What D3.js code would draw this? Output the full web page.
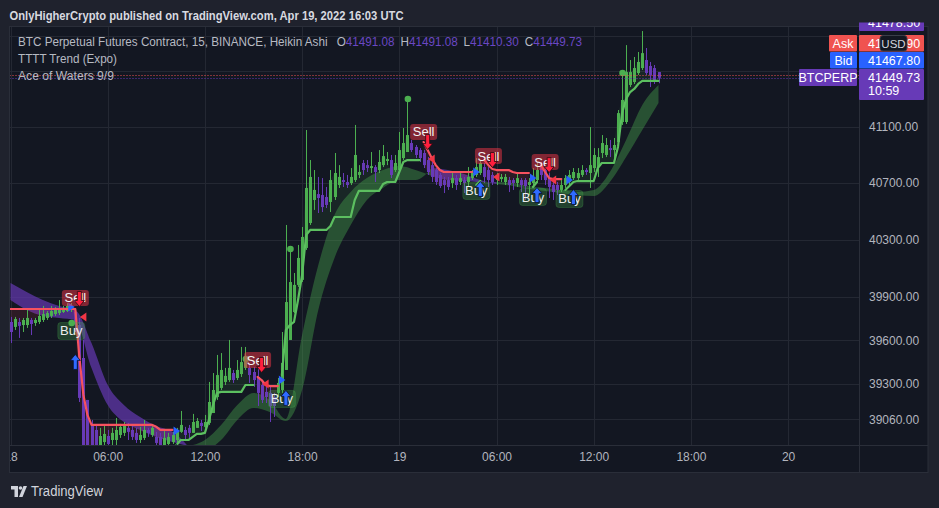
<!DOCTYPE html>
<html><head><meta charset="utf-8">
<script src="https://cdn.jsdelivr.net/npm/d3@7"></script>
<style>html,body{margin:0;padding:0;background:#1f222d;}svg{display:block}</style>
</head><body>
<svg id="c" width="939" height="508"></svg>
<script>
// ---------- DATA (Heikin Ashi 15m bars from 2022-04-18 00:00 UTC) ----------
const haOpen = [39726,39692,39726,39705,39705,39740,39719,39726,39740,39754,39768,39781,39788,39795,39802,39809,39795,39705,39478,39191,
39021,38987,38885,38905,38946,38919,38919,38953,38967,39001,38987,38967,38919,38933,38987,38953,38940,38940,38885,38892,
38905,38919,38974,38987,39001,38967,39001,39035,39008,39035,39102,39211,39273,39314,39327,39375,39341,39368,39410,39410,
39382,39348,39293,39246,39239,39211,39239,39259,39396,39602,39795,39983,40018,40241,40416,40578,40620,40613,40599,40564,
40599,40684,40719,40705,40698,40719,40755,40840,40825,40804,40811,40790,40825,40854,40861,40790,40790,40875,40918,40982,
40954,40932,40911,40861,40825,40790,40755,40719,40719,40698,40733,40705,40719,40705,40733,40755,40769,40811,40790,40755,
40719,40726,40705,40719,40719,40698,40719,40719,40684,40698,40719,40811,40790,40733,40684,40684,40649,40684,40705,40733,
40733,40755,40790,40769,40804,40811,40911,40897,40946,40932,40989,41132,41132,41398,41419,41484,41520,41578,41535,41520,41491.08];
const haHigh = [39761,39761,39754,39754,39809,39754,39754,39809,39837,39802,39837,39830,39878,39837,39857,39857,39823,39754,39602,39191,
39055,39014,39001,39021,38987,39001,39068,39028,39041,39035,39014,39001,39008,39055,39001,39021,38974,38967,38980,38967,
38974,39001,39116,39008,39021,39096,39068,39055,39089,39314,39375,39499,39512,39410,39602,39396,39464,39554,39554,39444,
39416,39410,39327,39307,39280,39239,39341,39657,40402,40227,40066,40262,40388,41075,40861,40790,40741,40733,40670,40790,
40911,40825,40769,40755,40804,41111,40825,40861,40861,40918,40825,40932,40968,40918,40897,40897,41061,41089,41297,41004,
40968,40946,40932,40882,40847,40804,40769,40741,40741,40769,40755,40769,40741,40811,40790,40875,40861,40840,40811,40776,
40769,40762,40762,40741,40733,40769,40733,40733,40733,40804,40840,40847,40804,40776,40705,40705,40719,40755,40790,40804,
40804,40825,40804,41096,40946,40946,41039,41018,41004,41018,41218,41484,41686,41578,41600,41636,41788,41665,41564,41542,41491.08];
const haLow = [39581,39671,39616,39657,39685,39636,39699,39712,39726,39740,39754,39768,39774,39788,39795,39795,39657,39177,38785,38718,
38684,38785,38838,38865,38852,38878,38885,38933,38946,38919,38919,38899,38899,38919,38940,38940,38878,38865,38878,38878,
38892,38905,38967,38919,38926,38967,39001,38980,39001,39021,39102,39191,39259,39293,39314,39307,39327,39348,39396,39307,
39280,39150,39170,39170,39041,39075,39211,39239,39396,39602,39788,39969,40003,40227,40402,40508,40486,40493,40521,40493,
40578,40663,40670,40663,40684,40705,40733,40755,40776,40769,40705,40769,40811,40825,40733,40776,40776,40861,40918,40918,
40875,40847,40804,40755,40705,40684,40663,40627,40649,40663,40649,40684,40627,40670,40719,40741,40755,40698,40670,40684,
40684,40705,40684,40634,40649,40670,40634,40578,40613,40670,40698,40719,40684,40592,40578,40613,40634,40663,40684,40719,
40705,40741,40755,40663,40776,40741,40875,40882,40882,40875,40968,41111,41118,41383,41405,41470,41506,41470,41383,41405,41410.30];
const haClose = [39657,39747,39699,39740,39754,39712,39740,39768,39781,39788,39802,39816,39823,39823,39837,39837,39726,39205,38878,38785,
38751,38838,38946,38960,38892,38967,38987,39008,39014,38974,38940,38919,38953,38987,38967,39001,38899,38885,38933,38940,
38953,38974,39021,38953,38967,39041,39048,39014,39041,39177,39259,39361,39396,39355,39410,39327,39396,39450,39464,39361,
39327,39239,39191,39211,39150,39150,39307,39444,39864,40003,39983,40171,40318,40663,40741,40649,40592,40528,40543,40719,
40769,40741,40705,40684,40741,40897,40776,40790,40804,40818,40776,40847,40889,40868,40755,40840,40932,40982,41039,40932,
40897,40875,40825,40776,40741,40705,40677,40684,40670,40733,40684,40733,40698,40741,40769,40811,40840,40741,40719,40705,
40755,40741,40741,40684,40698,40733,40684,40677,40705,40741,40790,40755,40719,40670,40634,40649,40684,40733,40755,40776,
40769,40790,40776,40825,40897,40882,40982,40968,40932,40968,41196,41290,41491,41491,41520,41564,41628,41484,41470,41434,41449.73];

// TTTT Trend (Expo): value per bar and its state (R = bearish, G = bullish)
const trendValue = [39816,39816,39816,39816,39816,39816,39816,39816,39816,39816,39816,39816,39816,39816,39816,39816,39816,39485,39225,39089,
39021,39021,39021,39021,39021,39021,39021,39021,39021,39021,39021,39021,39021,39021,39021,39021,39008,38987,38987,38987,
38987,38885,38919,38919,38919,38940,38960,38960,38967,39055,39157,39239,39246,39246,39246,39246,39246,39246,39293,39293,
39293,39348,39327,39293,39286,39286,39286,39361,39671,39705,39726,39878,40052,40332,40367,40367,40367,40367,40367,40395,
40458,40458,40458,40458,40458,40578,40642,40642,40642,40642,40642,40642,40691,40705,40705,40705,40776,40847,40861,40861,
40861,40861,40989,40932,40875,40825,40790,40776,40776,40776,40776,40776,40776,40776,40776,40684,40712,40861,40825,40797,
40790,40790,40790,40790,40776,40769,40769,40769,40769,40670,40705,40825,40776,40733,40726,40726,40726,40649,40677,40705,
40712,40712,40712,40712,40712,40804,40840,40840,40840,40840,40954,41196,41297,41347,41369,41405,41427,41427,41427,41427,41427];
const trendState = ("RRRRRRRRRRRRRRRRRRRRRRRRRRRRRRRRRRRRRRRRR" + "GGGGGGGGGGGGGGGGGGGG" + "RRRRRR" +
  "GGGGGGGGGGGGGGGGGGGGGGGGGGGGGGGGGGG" + "RRRRRRRRRRRRR" + "GG" + "RRRRRRRRRRRR" + "GG" + "RRRRRR" +
  "GGGGGGGGGGGGGGGGGGGGGGGG").split("");

// Ace of Waters cloud, hourly samples (fast / slow)
const bandFast = [39878,39809,39768,39754,39740,39410,39157,39041,38987,38940,38905,38878,38919,39021,39157,39239,39191,39062,39636,40122,
40472,40635,40733,40790,40818,40790,40748,40719,40712,40705,40705,40698,40677,40663,40649,40635,40649,40776,41004,41254,41398];
const bandSlow = [39996,39934,39878,39837,39809,39581,39293,39157,39075,39014,38974,38872,38852,38919,39055,39136,39109,39048,39259,39809,
40171,40402,40578,40663,40719,40719,40804,40790,40762,40719,40691,40677,40656,40642,40628,40613,40606,40705,40882,41075,41268];

// signals
const sellBars = [17,62,103,119,133];
const sellLabelPrice = [39893,39464,41061,40889,40847];
const sellArrowPrice = [39885,39430,40989,40861,40825];
const buyBars = [16,41,68,116,130,139];
const buyLabelPrice = [39664,38771,39198,40642,40599,40585];
const buyArrowPrice = [39451,38838,39205,40656,40613,40599];
const blueMarkBars = [15,41,67,115,129,138];
const blueMarkPrice = [39830,38980,39327,40776,40733,40719];
const redMarkBars = [18,63,104,120,134];
const redMarkPrice = [39761,39300,40868,40741,40719];
const dotBars = [15,58,69,98,151];
const dotPrice = [39719,39471,40234,41297,41484];

// axes
const priceTicks = [41750,41500,41100,40700,40300,39900,39600,39300,39060];
const priceTickLabels = ["","","41100.00","40700.00","40300.00","39900.00","39600.00","39300.00","39060.00"];
const timeTickLabels = ["18","06:00","12:00","18:00","19","06:00","12:00","18:00","20"];
const askPrice = 41467.90, bidPrice = 41467.80, topLabel = "41478.50", countdown = "10:59";

// ---------- CHART ----------
const svg = d3.select("#c");
const FONT = "'Liberation Sans', Arial, sans-serif";
const plot = {x0: 9.5, x1: 859, y0: 26, y1: 445};
const start = Date.UTC(2022, 3, 18, 0, 0);
const barTime = haOpen.map((_, i) => new Date(start + i * 15 * 60000));
const x = d3.scaleUtc().domain([new Date(Date.UTC(2022,3,18)), new Date(Date.UTC(2022,3,20))]).range([10.5, 788.1]);
const y = d3.scaleLog().domain([41100, 39060]).range([126.5, 419.2]);
const GREEN = "#4caf50", PURPLE = "#673ab7", RED = "#f23645", BLUE = "#2962ff";

svg.append("rect").attr("width", 939).attr("height", 508).attr("fill", "#1f222d");
svg.append("rect").attr("x", plot.x0).attr("y", plot.y0).attr("width", 928 - plot.x0).attr("height", 472 - plot.y0)
  .attr("fill", "#131722");

const defs = svg.append("defs");
defs.append("clipPath").attr("id", "pc").append("rect")
  .attr("x", plot.x0).attr("y", plot.y0).attr("width", plot.x1 - plot.x0).attr("height", plot.y1 - plot.y0);
defs.append("clipPath").attr("id", "tc").append("rect")
  .attr("x", plot.x0 + 0.5).attr("y", plot.y1).attr("width", plot.x1 - plot.x0).attr("height", 27);
defs.append("clipPath").attr("id", "ac").append("rect")
  .attr("x", plot.x1).attr("y", 22.5).attr("width", 70).attr("height", 450);

const tickDates = d3.utcHour.every(6).range(new Date(Date.UTC(2022,3,18)), new Date(Date.UTC(2022,3,20,0,1)));

// grid
const grid = svg.append("g").attr("clip-path", "url(#pc)");
grid.selectAll("line.h").data(priceTicks).join("line")
  .attr("x1", plot.x0).attr("x2", plot.x1).attr("y1", d => Math.round(y(d)) + 0.5).attr("y2", d => Math.round(y(d)) + 0.5)
  .attr("stroke", "#242833").attr("stroke-width", 1);
grid.selectAll("line.v").data(tickDates).join("line")
  .attr("y1", plot.y0).attr("y2", plot.y1).attr("x1", d => Math.round(x(d)) + 0.5).attr("x2", d => Math.round(x(d)) + 0.5)
  .attr("stroke", "#242833").attr("stroke-width", 1);

const pane = svg.append("g").attr("clip-path", "url(#pc)");

// cloud
const bandIdx = d3.range(0, haOpen.length, 4);
const bandPts = bandIdx.map((b, k) => ({t: barTime[b], f: bandFast[k], s: bandSlow[k]}));
const groups = [];
let cur = null;
bandPts.forEach(p => {
  const up = p.f >= p.s;
  if (!cur || cur.up !== up) { if (cur) cur.pts.push(p); cur = {up, pts: [p]}; groups.push(cur); }
  else cur.pts.push(p);
});
const bandArea = d3.area().x(d => x(d.t)).y0(d => y(d.f)).y1(d => y(d.s)).curve(d3.curveMonotoneX);
pane.selectAll("path.band").data(groups).join("path")
  .attr("d", g => bandArea(g.pts))
  .attr("fill", g => g.up ? "rgba(76,175,80,0.38)" : "rgba(103,58,183,0.68)");

// trend runs
const runs = [];
let run = null;
trendState.forEach((s, i) => {
  if (!run || run.s !== s) { run = {s, idx: []}; runs.push(run); }
  run.idx.push(i);
});
const trendArea = d3.area().x(i => x(barTime[i])).y0(i => y(trendValue[i])).y1(i => y(haClose[i]));
pane.selectAll("path.tfill").data(runs).join("path")
  .attr("d", r => trendArea(r.idx))
  .attr("fill", r => r.s === "G" ? "rgba(76,175,80,0.10)" : "rgba(242,54,69,0.12)");

// candles
const cg = pane.append("g");
haOpen.forEach((o, i) => {
  const c = haClose[i], up = c >= o, col = up ? GREEN : PURPLE;
  const cx = Math.round(x(barTime[i]));
  cg.append("line").attr("x1", cx + 0.5).attr("x2", cx + 0.5).attr("y1", y(haHigh[i])).attr("y2", y(haLow[i]))
    .attr("stroke", col).attr("stroke-width", 1);
  const top = y(Math.max(o, c)), bot = y(Math.min(o, c));
  cg.append("rect").attr("x", cx - 1).attr("width", 3).attr("y", top).attr("height", Math.max(1, bot - top)).attr("fill", col);
});

// trend line
const trendLine = d3.line().x(i => x(barTime[i])).y(i => y(trendValue[i]));
pane.selectAll("path.tline").data(runs).join("path")
  .attr("d", r => trendLine(r.idx.length > 1 ? r.idx : [r.idx[0], r.idx[0]]))
  .attr("fill", "none").attr("stroke", r => r.s === "G" ? "#5cbf60" : "#f7525f")
  .attr("stroke-width", 2.2).attr("stroke-linejoin", "round").attr("stroke-linecap", "round");

// dots
pane.selectAll("circle.dot").data(dotBars).join("circle")
  .attr("cx", (b) => x(barTime[b]) + 0.5).attr("cy", (b, k) => y(dotPrice[k])).attr("r", 3.3).attr("fill", "#4caf50");

// price lines (ask / last)
pane.append("line").attr("x1", plot.x0).attr("x2", plot.x1).attr("y1", Math.round(y(askPrice)) + 0.5).attr("y2", Math.round(y(askPrice)) + 0.5)
  .attr("stroke", "#f05350").attr("stroke-dasharray", "1,2");
pane.append("line").attr("x1", plot.x0).attr("x2", plot.x1).attr("y1", Math.round(y(haClose[haClose.length-1])) + 0.5).attr("y2", Math.round(y(haClose[haClose.length-1])) + 0.5)
  .attr("stroke", "#673ab7").attr("stroke-dasharray", "1,2");

// markers
const mk = pane.append("g");
function downArrow(cx, cy) {
  return `M${cx-2},${cy-7.5}L${cx+2},${cy-7.5}L${cx+2},${cy+1.5}L${cx+5},${cy+1.5}L${cx},${cy+7.5}L${cx-5},${cy+1.5}L${cx-2},${cy+1.5}Z`;
}
function upArrow(cx, cy) {
  return `M${cx-2},${cy+7.5}L${cx+2},${cy+7.5}L${cx+2},${cy-1.5}L${cx+5},${cy-1.5}L${cx},${cy-7.5}L${cx-5},${cy-1.5}L${cx-2},${cy-1.5}Z`;
}
blueMarkBars.forEach((b, k) => {
  const cx = x(barTime[b]), cy = y(blueMarkPrice[k]);
  mk.append("path").attr("d", `M${cx-3},${cy-4.5}L${cx+3.5},${cy}L${cx-3},${cy+4.5}Z`).attr("fill", BLUE);
});
redMarkBars.forEach((b, k) => {
  const cx = x(barTime[b]), cy = y(redMarkPrice[k]);
  mk.append("path").attr("d", `M${cx+3},${cy-4.5}L${cx-3.5},${cy}L${cx+3},${cy+4.5}Z`).attr("fill", RED);
});
sellBars.forEach((b, k) => {
  const bx = x(barTime[b]), ly = y(sellLabelPrice[k]);
  mk.append("rect").attr("x", bx - 4 - 13.5).attr("y", ly - 8).attr("width", 27).attr("height", 16).attr("rx", 3)
    .attr("fill", "rgba(242,54,69,0.5)");
  mk.append("text").attr("x", bx - 4).attr("y", ly).attr("text-anchor", "middle").attr("dominant-baseline", "central")
    .attr("font-family", FONT).attr("font-size", 13).attr("fill", "#f4f4f4").text("Sell");
  mk.append("path").attr("d", downArrow(bx, y(sellArrowPrice[k]))).attr("fill", "#ff1f3d").attr("stroke", "#2a0a10").attr("stroke-width", 0.8);
});
buyBars.forEach((b, k) => {
  const bx = x(barTime[b]), ly = y(buyLabelPrice[k]);
  mk.append("rect").attr("x", bx - 4 - 13.5).attr("y", ly - 8.5).attr("width", 27).attr("height", 17).attr("rx", 3)
    .attr("fill", "rgba(76,175,80,0.28)").attr("stroke", "rgba(76,175,80,0.25)");
  mk.append("text").attr("x", bx - 4).attr("y", ly).attr("text-anchor", "middle").attr("dominant-baseline", "central")
    .attr("font-family", FONT).attr("font-size", 13).attr("fill", "#eeeeee").text("Buy");
  mk.append("path").attr("d", upArrow(bx, y(buyArrowPrice[k]))).attr("fill", "#2f6bff").attr("stroke", "#0a1030").attr("stroke-width", 0.8);
});

// frame lines
svg.append("line").attr("x1", plot.x1 + 0.5).attr("x2", plot.x1 + 0.5).attr("y1", plot.y0).attr("y2", 472).attr("stroke", "#2a2e39");
svg.append("line").attr("x1", plot.x0).attr("x2", 928).attr("y1", plot.y1 + 0.5).attr("y2", plot.y1 + 0.5).attr("stroke", "#2a2e39");
svg.append("rect").attr("x", plot.x0).attr("y", plot.y0 + 0.5).attr("width", 928 - plot.x0).attr("height", 472 - plot.y0)
  .attr("fill", "none").attr("stroke", "#2a2e39");

// time axis (clip applied on an untransformed wrapper)
const tWrap = svg.append("g").attr("clip-path", "url(#tc)");
const tAxis = tWrap.append("g").attr("transform", `translate(0,${plot.y1})`)
  .call(d3.axisBottom(x).tickValues(tickDates).tickSize(0).tickPadding(7).tickFormat((d, i) => timeTickLabels[i]));
tAxis.select(".domain").remove();
tAxis.selectAll("text").attr("font-family", FONT).attr("font-size", 12).attr("fill", "#b2b5be");

// price axis
const pAxis = svg.append("g").attr("transform", `translate(${plot.x1},0)`)
  .call(d3.axisRight(y).tickValues(priceTicks).tickSize(0).tickPadding(10).tickFormat((d, i) => priceTickLabels[i]));
pAxis.select(".domain").remove();
pAxis.selectAll("text").attr("font-family", FONT).attr("font-size", 12).attr("fill", "#b2b5be");

// axis labels
const al = svg.append("g").attr("clip-path", "url(#ac)");
function valBox(y0, h, fill, lines) {
  al.append("rect").attr("x", plot.x1).attr("y", y0).attr("width", 65).attr("height", h).attr("fill", fill).attr("rx", 1);
  lines.forEach((t, k) => al.append("text").attr("x", 868).attr("y", y0 + 8.5 + k * 13.5).attr("dominant-baseline", "central")
    .attr("font-family", FONT).attr("font-size", 12.5).attr("fill", "#ffffff").text(t));
}
valBox(14, 17, "#673ab7", [topLabel]);
valBox(35, 16.5, "#f05350", [d3.format(".2f")(askPrice)]);
valBox(52, 16.5, "#2962ff", [d3.format(".2f")(bidPrice)]);
valBox(69, 31, "#673ab7", [d3.format(".2f")(haClose[haClose.length-1]), countdown]);
// USD badge
svg.append("rect").attr("x", 880).attr("y", 35.5).attr("width", 27).attr("height", 15.5).attr("rx", 3)
  .attr("fill", "#131722").attr("stroke", "#3a3e49");
svg.append("text").attr("x", 893.5).attr("y", 43.5).attr("text-anchor", "middle").attr("dominant-baseline", "central")
  .attr("font-family", FONT).attr("font-size", 11.5).attr("fill", "#d1d4dc").text("USD");
// left tags
function tag(x0, y0, w, h, fill, t) {
  svg.append("rect").attr("x", x0).attr("y", y0).attr("width", w).attr("height", h).attr("fill", fill).attr("rx", 1);
  svg.append("text").attr("x", x0 + w / 2).attr("y", y0 + h / 2 + 0.5).attr("text-anchor", "middle").attr("dominant-baseline", "central")
    .attr("font-family", FONT).attr("font-size", 12.5).attr("fill", "#ffffff").text(t);
}
tag(829, 35, 28, 16.5, "#f05350", "Ask");
tag(830, 52, 27, 16.5, "#2962ff", "Bid");
tag(799, 69, 58, 17, "#673ab7", "BTCPERP");

// header & legend
function txt(xp, yp, s, len, col, size, weight) {
  return svg.append("text").attr("x", xp).attr("y", yp).attr("dominant-baseline", "central")
    .attr("font-family", FONT).attr("font-size", size || 13).attr("font-weight", weight || "normal")
    .attr("fill", col).attr("textLength", len).attr("lengthAdjust", "spacingAndGlyphs").text(s);
}
txt(9.5, 15, "OnlyHigherCrypto published on TradingView.com, Apr 19, 2022 16:03 UTC", 394, "#d8dae0", 13, "bold");
const last = haOpen.length - 1, f2 = d3.format(".2f"), VAL = "#6a47c4", LEG = "#b7bac2";
// whole symbol legend line as one text with coloured parts
const leg = svg.append("text").attr("x", 18).attr("y", 42).attr("dominant-baseline", "central")
  .attr("font-family", FONT).attr("font-size", 12).attr("fill", LEG)
  .attr("textLength", 564).attr("lengthAdjust", "spacingAndGlyphs");
leg.append("tspan").text("BTC Perpetual Futures Contract, 15, BINANCE, Heikin Ashi\u2002 O");
leg.append("tspan").attr("fill", VAL).text(f2(haOpen[last]));
leg.append("tspan").text("\u2002H");
leg.append("tspan").attr("fill", VAL).text(f2(haHigh[last]));
leg.append("tspan").text("\u2002L");
leg.append("tspan").attr("fill", VAL).text(f2(haLow[last]));
leg.append("tspan").text("\u2002C");
leg.append("tspan").attr("fill", VAL).text(f2(haClose[last]));
txt(18, 59, "TTTT Trend (Expo)", 99, LEG, 12.5);
txt(18, 76, "Ace of Waters 9/9", 96, LEG, 12.5);

// footer logo
const lg = svg.append("g").attr("fill", "#d1d4dc");
lg.append("rect").attr("x", 11).attr("y", 486).attr("width", 7).attr("height", 3.5);
lg.append("rect").attr("x", 14.5).attr("y", 486).attr("width", 3.5).attr("height", 11);
lg.append("circle").attr("cx", 20.5).attr("cy", 488).attr("r", 1.8);
lg.append("path").attr("d", "M19,497L23.5,486L27,486L22.5,497Z");
txt(31, 491, "TradingView", 72, "#d1d4dc", 14);
</script>
</body></html>
